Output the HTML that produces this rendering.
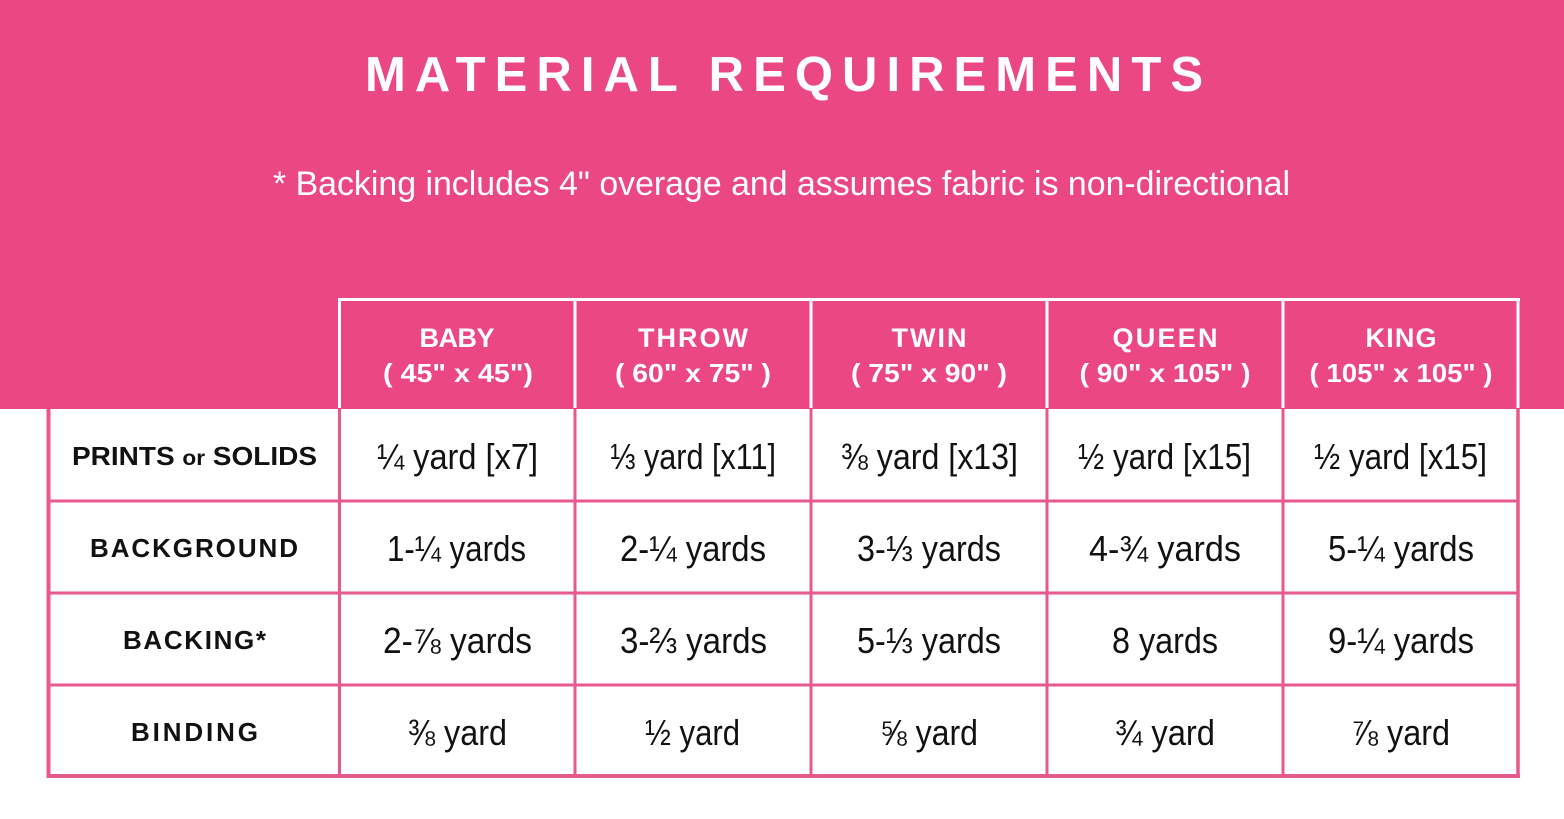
<!DOCTYPE html>
<html>
<head>
<meta charset="utf-8">
<style>
  html, body { margin: 0; padding: 0; background: #ffffff; }
  body { width: 1564px; height: 819px; overflow: hidden; }
  svg { display: block; }
  .t { font-family: "Liberation Sans", "DejaVu Sans", sans-serif; }
</style>
</head>
<body>
<svg width="1564" height="819" viewBox="0 0 1564 819" xmlns="http://www.w3.org/2000/svg">
  <!-- pink top band -->
  <rect x="0" y="0" width="1564" height="409" fill="#EB4783"/>
  <rect x="0" y="409" width="1564" height="410" fill="#ffffff"/>

  <!-- Title -->
  <text class="t" x="784" y="91" text-anchor="middle" font-size="49" font-weight="bold" fill="#ffffff" textLength="838" lengthAdjust="spacing">MATERIAL REQUIREMENTS</text>

  <!-- Subtitle -->
  <text class="t" x="781.5" y="195" text-anchor="middle" font-size="34" fill="#ffffff" textLength="1017" lengthAdjust="spacingAndGlyphs">* Backing includes 4" overage and assumes fabric is non-directional</text>

  <!-- Header white box lines -->
  <g stroke="#ffffff" stroke-width="3" fill="none">
    <line x1="338" y1="299.5" x2="1520" y2="299.5"/>
    <line x1="339.5" y1="298" x2="339.5" y2="408"/>
    <line x1="575" y1="298" x2="575" y2="408"/>
    <line x1="811" y1="298" x2="811" y2="408"/>
    <line x1="1047" y1="298" x2="1047" y2="408"/>
    <line x1="1283" y1="298" x2="1283" y2="408"/>
    <line x1="1518" y1="298" x2="1518" y2="408"/>
  </g>

  <!-- Header texts -->
  <g class="t" fill="#ffffff" font-weight="bold" text-anchor="middle">
    <text x="457" y="347" font-size="27" textLength="75" lengthAdjust="spacing">BABY</text>
    <text x="693" y="347" font-size="27" textLength="110" lengthAdjust="spacing">THROW</text>
    <text x="929" y="347" font-size="27" textLength="75" lengthAdjust="spacing">TWIN</text>
    <text x="1165" y="347" font-size="27" textLength="105" lengthAdjust="spacing">QUEEN</text>
    <text x="1401" y="347" font-size="27" textLength="71" lengthAdjust="spacing">KING</text>

    <text x="458" y="382" font-size="26" textLength="150" lengthAdjust="spacingAndGlyphs">( 45" x 45")</text>
    <text x="693" y="382" font-size="26" textLength="156" lengthAdjust="spacingAndGlyphs">( 60" x 75" )</text>
    <text x="929" y="382" font-size="26" textLength="156" lengthAdjust="spacingAndGlyphs">( 75" x 90" )</text>
    <text x="1165" y="382" font-size="26" textLength="171" lengthAdjust="spacingAndGlyphs">( 90" x 105" )</text>
    <text x="1401" y="382" font-size="26" textLength="183" lengthAdjust="spacingAndGlyphs">( 105" x 105" )</text>
  </g>

  <!-- Table grid (pink) -->
  <g stroke="#E85A8E" fill="none">
    <!-- inner horizontal -->
    <line x1="48" y1="501" x2="1518" y2="501" stroke-width="3"/>
    <line x1="48" y1="593" x2="1518" y2="593" stroke-width="3"/>
    <line x1="48" y1="685" x2="1518" y2="685" stroke-width="3"/>
    <!-- inner vertical -->
    <line x1="339.5" y1="409" x2="339.5" y2="776" stroke-width="3"/>
    <line x1="575" y1="409" x2="575" y2="776" stroke-width="3"/>
    <line x1="811" y1="409" x2="811" y2="776" stroke-width="3"/>
    <line x1="1047" y1="409" x2="1047" y2="776" stroke-width="3"/>
    <line x1="1283" y1="409" x2="1283" y2="776" stroke-width="3"/>
    <!-- outer -->
    <line x1="48.5" y1="409" x2="48.5" y2="778" stroke-width="4"/>
    <line x1="1518" y1="409" x2="1518" y2="778" stroke-width="3.5"/>
    <line x1="46.5" y1="776" x2="1520" y2="776" stroke-width="4"/>
  </g>

  <!-- Row labels -->
  <g class="t" fill="#111111" font-weight="bold" text-anchor="middle" font-size="26">
    <text x="194.5" y="465" textLength="245" lengthAdjust="spacingAndGlyphs">PRINTS <tspan font-size="21">or</tspan> SOLIDS</text>
    <text x="194" y="557" textLength="208" lengthAdjust="spacing">BACKGROUND</text>
    <text x="194.5" y="649" textLength="143" lengthAdjust="spacing">BACKING*</text>
    <text x="194.5" y="741" textLength="127" lengthAdjust="spacing">BINDING</text>
  </g>

  <!-- Cell values -->
  <g class="t" fill="#111111" text-anchor="middle" font-size="36">
    <!-- Row 1 -->
    <text x="457.5" y="469" textLength="161" lengthAdjust="spacingAndGlyphs">¼ yard [x7]</text>
    <text x="693" y="469" textLength="166" lengthAdjust="spacingAndGlyphs">⅓ yard [x11]</text>
    <text x="929.5" y="469" textLength="177" lengthAdjust="spacingAndGlyphs">⅜ yard [x13]</text>
    <text x="1164.5" y="469" textLength="173" lengthAdjust="spacingAndGlyphs">½ yard [x15]</text>
    <text x="1400.5" y="469" textLength="173" lengthAdjust="spacingAndGlyphs">½ yard [x15]</text>
    <!-- Row 2 -->
    <text x="456.5" y="561" textLength="139" lengthAdjust="spacingAndGlyphs">1-¼ yards</text>
    <text x="693" y="561" textLength="146" lengthAdjust="spacingAndGlyphs">2-¼ yards</text>
    <text x="929" y="561" textLength="144" lengthAdjust="spacingAndGlyphs">3-⅓ yards</text>
    <text x="1165" y="561" textLength="152" lengthAdjust="spacingAndGlyphs">4-¾ yards</text>
    <text x="1401" y="561" textLength="146" lengthAdjust="spacingAndGlyphs">5-¼ yards</text>
    <!-- Row 3 -->
    <text x="457.5" y="653" textLength="149" lengthAdjust="spacingAndGlyphs">2-⅞ yards</text>
    <text x="693.5" y="653" textLength="147" lengthAdjust="spacingAndGlyphs">3-⅔ yards</text>
    <text x="929" y="653" textLength="144" lengthAdjust="spacingAndGlyphs">5-⅓ yards</text>
    <text x="1165" y="653" textLength="106" lengthAdjust="spacingAndGlyphs">8 yards</text>
    <text x="1401" y="653" textLength="146" lengthAdjust="spacingAndGlyphs">9-¼ yards</text>
    <!-- Row 4 -->
    <text x="457.5" y="745" textLength="99" lengthAdjust="spacingAndGlyphs">⅜ yard</text>
    <text x="692.5" y="745" textLength="95" lengthAdjust="spacingAndGlyphs">½ yard</text>
    <text x="929" y="745" textLength="98" lengthAdjust="spacingAndGlyphs">⅝ yard</text>
    <text x="1165" y="745" textLength="100" lengthAdjust="spacingAndGlyphs">¾ yard</text>
    <text x="1400.5" y="745" textLength="99" lengthAdjust="spacingAndGlyphs">⅞ yard</text>
  </g>
</svg>
</body>
</html>
